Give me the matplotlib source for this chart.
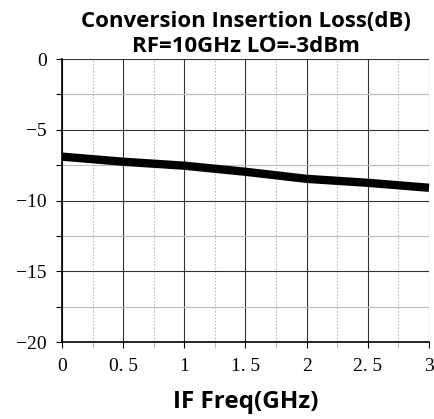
import matplotlib
matplotlib.use("Agg")
import matplotlib.pyplot as plt
from matplotlib.ticker import FixedLocator

freq = [0.0, 0.5, 1.0, 1.5, 2.0, 2.5, 3.0]
loss = [-6.9, -7.26, -7.54, -7.97, -8.47, -8.75, -9.1]
xticks = [0, 0.5, 1, 1.5, 2, 2.5, 3]
xticklabels = ["0", "0. 5", "1", "1. 5", "2", "2. 5", "3"]
yticks = [0, -5, -10, -15, -20]
yticklabels = ["0", "\u22125", "\u221210", "\u221215", "\u221220"]
title1 = "Conversion Insertion Loss(dB)"
title2 = "RF=10GHz LO=-3dBm"
xlabel = "IF Freq(GHz)"

W, H = 434, 419
fig = plt.figure(figsize=(W/100, H/100), dpi=100)
ax = fig.add_axes([62/W, 1-342/H, (429-62)/W, (342-59)/H])

ax.plot(freq, loss, color="black", lw=6, solid_capstyle="butt", zorder=5, clip_on=False)
ax.set_xlim(0, 3)
ax.set_ylim(-20, 0)

ax.set_xticks(xticks)
ax.set_xticklabels(xticklabels, family="Liberation Serif", fontsize=14)
ax.set_yticks(yticks)
ax.set_yticklabels(yticklabels, family="Liberation Serif", fontsize=14)
ax.xaxis.set_minor_locator(FixedLocator([0.25, 0.75, 1.25, 1.75, 2.25, 2.75]))
ax.yaxis.set_minor_locator(FixedLocator([-2.5, -7.5, -12.5, -17.5]))

ax.grid(which="major", axis="both", color="#333333", lw=0.8, ls="-")
ax.grid(which="minor", axis="x", color="#bbbbbb", lw=0.8, ls=(0, (1.5, 1.5)))
ax.grid(which="minor", axis="y", color="#bbbbbb", lw=0.8, ls="-")
ax.tick_params(which="both", direction="out", length=4, width=0.8, color="black")
ax.tick_params(axis="x", which="major", pad=7.5)
ax.tick_params(axis="y", which="major", pad=7)
ax.tick_params(which="minor", axis="x", color="#bbbbbb")
for s in ["top", "right"]:
    ax.spines[s].set_visible(False)
for s in ["left", "bottom"]:
    ax.spines[s].set_linewidth(1.2)

cx = (62 + 429) / 2 / W
fig.text(cx, 1-27/H, title1, ha="center", va="baseline", family="Open Sans",
         fontsize=16, fontweight="bold")
fig.text(cx, 1-52/H, title2, ha="center", va="baseline", family="Open Sans",
         fontsize=16, fontweight="bold")
fig.text(cx, 1-408/H, xlabel, ha="center", va="baseline", family="Open Sans",
         fontsize=17.5, fontweight="bold")

fig.savefig("out.png", dpi=100)
